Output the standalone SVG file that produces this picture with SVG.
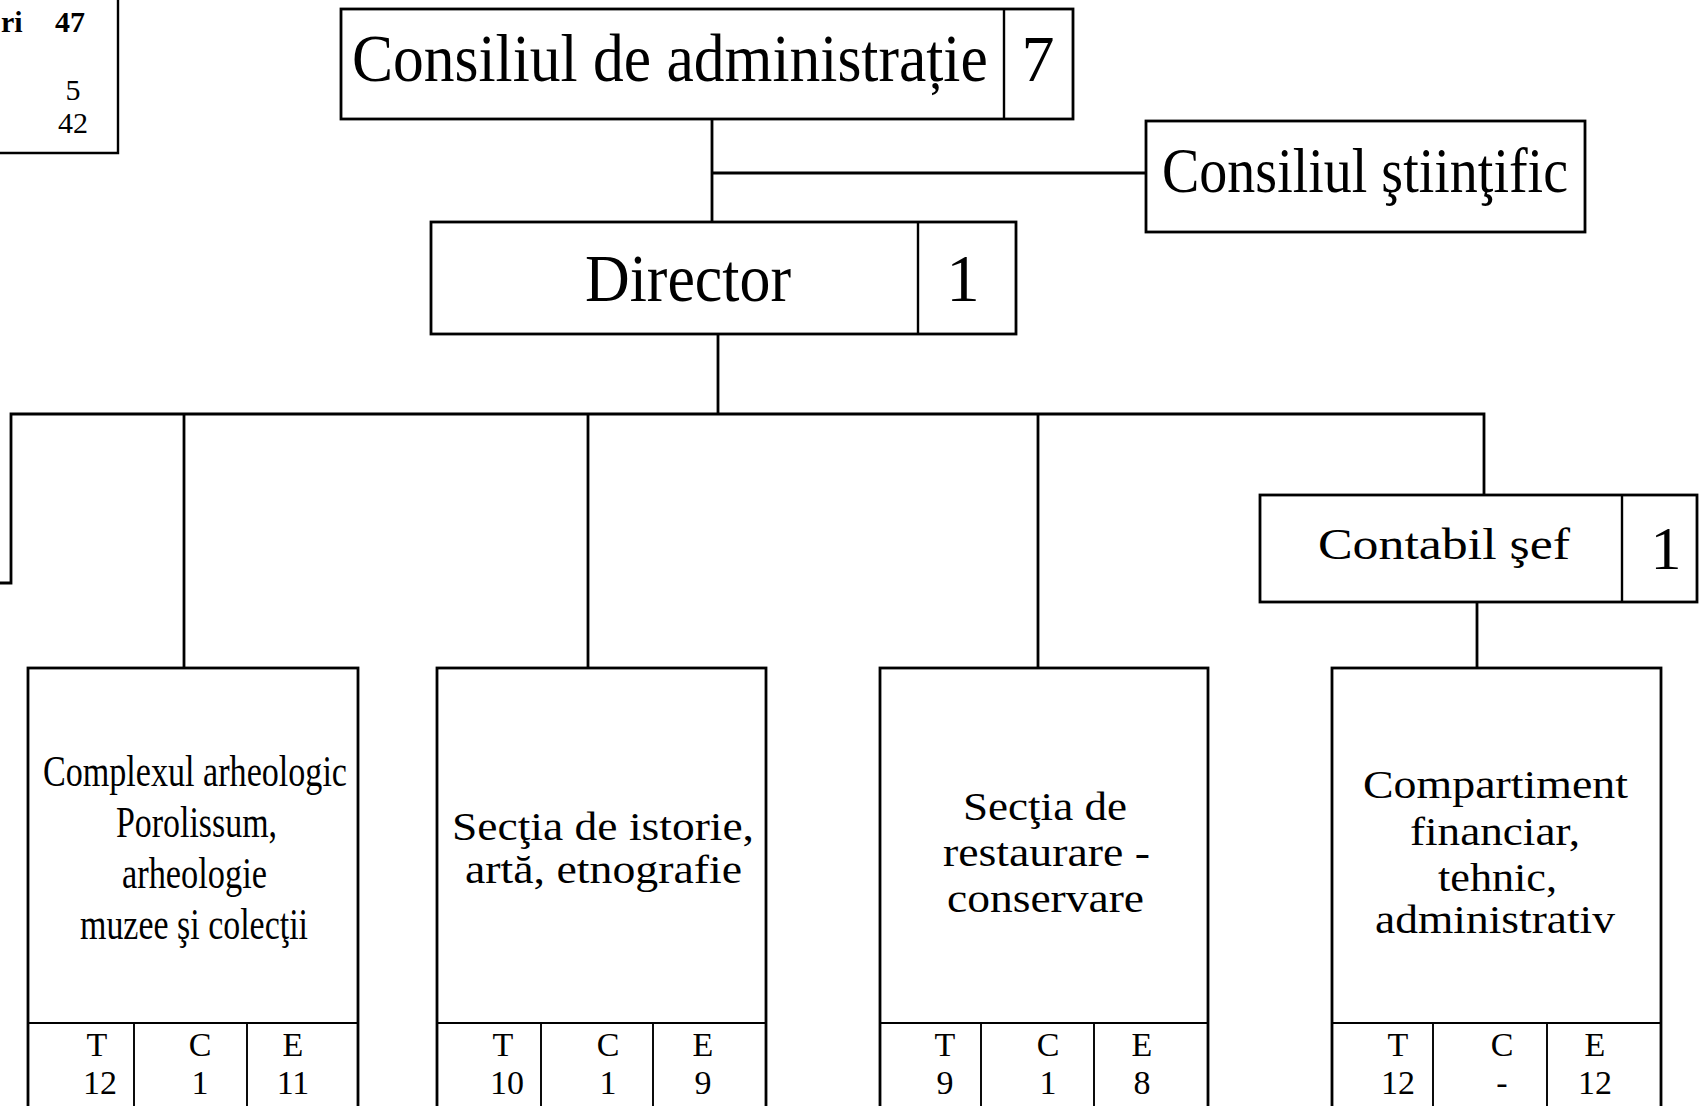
<svg xmlns="http://www.w3.org/2000/svg" width="1699" height="1106" viewBox="0 0 1699 1106">
<style>
  .box{fill:#fff;stroke:#000;stroke-width:2.8}
  .div{stroke:#000;stroke-width:2.4;fill:none}
  .thin{stroke:#000;stroke-width:1.9;fill:none}
  .con{stroke:#000;stroke-width:2.8;fill:none}
  text{font-family:"Liberation Serif","Times New Roman",serif;fill:#000}
  .mid{text-anchor:middle}
  .tce{font-size:34px;text-anchor:middle}
</style>
<rect width="1699" height="1106" fill="#fff"/>

<g id="connectors">
  <path class="con" d="M712 119V222"/>
  <path class="con" d="M712 173H1146"/>
  <path class="con" d="M718 334V414"/>
  <path class="con" d="M0 583H11V414H1484V495"/>
  <path class="con" d="M184 414V668"/>
  <path class="con" d="M588 414V668"/>
  <path class="con" d="M1038 414V668"/>
  <path class="con" d="M1477 602V668"/>
</g>

<g id="summary">
  <path class="div" d="M118 0V153H0"/>
  <text x="1" y="32" font-size="30" font-weight="bold">ri</text>
  <text x="70" y="32" font-size="30" font-weight="bold" class="mid">47</text>
  <text x="73" y="100" font-size="30" class="mid">5</text>
  <text x="73" y="133" font-size="30" class="mid">42</text>
</g>

<g id="consiliul-administratie">
  <rect class="box" x="341" y="9" width="732" height="110"/>
  <path class="div" d="M1004 9V119"/>
  <text transform="translate(352 81) scale(0.905 1)" font-size="68">Consiliul de administrație</text>
  <text x="1038" y="81" font-size="66" class="mid">7</text>
</g>

<g id="consiliul-stiintific">
  <rect class="box" x="1146" y="121" width="439" height="111"/>
  <text x="1162" y="192" font-size="63" textLength="406" lengthAdjust="spacingAndGlyphs">Consiliul ştiinţific</text>
</g>

<g id="director">
  <rect class="box" x="431" y="222" width="585" height="112"/>
  <path class="div" d="M918 222V334"/>
  <text x="585" y="301" font-size="67" textLength="206" lengthAdjust="spacingAndGlyphs">Director</text>
  <text x="963" y="301" font-size="67" class="mid">1</text>
</g>

<g id="contabil-sef">
  <rect class="box" x="1260" y="495" width="437" height="107"/>
  <path class="div" d="M1622 495V602"/>
  <text x="1318" y="559" font-size="44" textLength="252" lengthAdjust="spacingAndGlyphs">Contabil şef</text>
  <text x="1666" y="569" font-size="62" class="mid">1</text>
</g>

<g id="complexul-arheologic">
  <rect class="box" x="28" y="668" width="330" height="460"/>
  <path class="thin" d="M28 1023H358M134 1023V1110M247 1023V1110"/>
  <text x="43" y="786" font-size="45" textLength="304" lengthAdjust="spacingAndGlyphs">Complexul arheologic</text>
  <text x="116" y="837" font-size="45" textLength="161" lengthAdjust="spacingAndGlyphs">Porolissum,</text>
  <text x="122" y="888" font-size="45" textLength="145" lengthAdjust="spacingAndGlyphs">arheologie</text>
  <text x="80" y="939" font-size="45" textLength="228" lengthAdjust="spacingAndGlyphs">muzee şi colecţii</text>
  <text class="tce" x="97" y="1056">T</text>
  <text class="tce" x="200" y="1056">C</text>
  <text class="tce" x="293" y="1056">E</text>
  <text class="tce" x="100" y="1094">12</text>
  <text class="tce" x="200" y="1094">1</text>
  <text class="tce" x="293" y="1094">11</text>
</g>

<g id="sectia-istorie">
  <rect class="box" x="437" y="668" width="329" height="460"/>
  <path class="thin" d="M437 1023H766M541 1023V1110M653 1023V1110"/>
  <text x="452" y="840" font-size="41" textLength="302" lengthAdjust="spacingAndGlyphs">Secţia de istorie,</text>
  <text x="465" y="883" font-size="41" textLength="277" lengthAdjust="spacingAndGlyphs">artă, etnografie</text>
  <text class="tce" x="503" y="1056">T</text>
  <text class="tce" x="608" y="1056">C</text>
  <text class="tce" x="703" y="1056">E</text>
  <text class="tce" x="507" y="1094">10</text>
  <text class="tce" x="608" y="1094">1</text>
  <text class="tce" x="703" y="1094">9</text>
</g>

<g id="sectia-restaurare">
  <rect class="box" x="880" y="668" width="328" height="460"/>
  <path class="thin" d="M880 1023H1208M981 1023V1110M1094 1023V1110"/>
  <text x="963" y="820" font-size="41" textLength="164" lengthAdjust="spacingAndGlyphs">Secţia de</text>
  <text x="943" y="866" font-size="41" textLength="207" lengthAdjust="spacingAndGlyphs">restaurare -</text>
  <text x="947" y="912" font-size="41" textLength="197" lengthAdjust="spacingAndGlyphs">conservare</text>
  <text class="tce" x="945" y="1056">T</text>
  <text class="tce" x="1048" y="1056">C</text>
  <text class="tce" x="1142" y="1056">E</text>
  <text class="tce" x="945" y="1094">9</text>
  <text class="tce" x="1048" y="1094">1</text>
  <text class="tce" x="1142" y="1094">8</text>
</g>

<g id="compartiment-financiar">
  <rect class="box" x="1332" y="668" width="329" height="460"/>
  <path class="thin" d="M1332 1023H1661M1433 1023V1110M1547 1023V1110"/>
  <text x="1363" y="798" font-size="40" textLength="265" lengthAdjust="spacingAndGlyphs">Compartiment</text>
  <text x="1410" y="845" font-size="40" textLength="170" lengthAdjust="spacingAndGlyphs">financiar,</text>
  <text x="1438" y="891" font-size="40" textLength="119" lengthAdjust="spacingAndGlyphs">tehnic,</text>
  <text x="1375" y="933" font-size="40" textLength="240" lengthAdjust="spacingAndGlyphs">administrativ</text>
  <text class="tce" x="1398" y="1056">T</text>
  <text class="tce" x="1502" y="1056">C</text>
  <text class="tce" x="1595" y="1056">E</text>
  <text class="tce" x="1398" y="1094">12</text>
  <text class="tce" x="1502" y="1094">-</text>
  <text class="tce" x="1595" y="1094">12</text>
</g>
</svg>
